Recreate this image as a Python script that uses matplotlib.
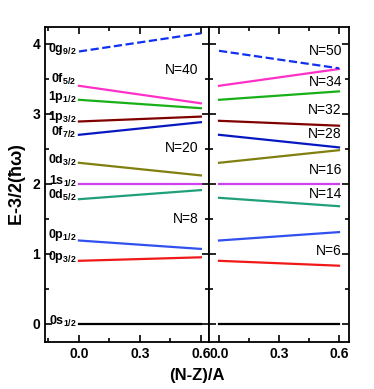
import matplotlib
matplotlib.use('Agg')
import matplotlib.pyplot as plt
from matplotlib.ticker import MultipleLocator

# ---------------------------------------------------------
# DATA (single-particle levels, E - 3/2 hbar*omega)
# ---------------------------------------------------------
X_ENDS = [0.0, 0.6]

ORBITALS = [r'0s$_{\mathbf{1/2}}$', r'0p$_{\mathbf{3/2}}$', r'0p$_{\mathbf{1/2}}$',
            r'0d$_{\mathbf{5/2}}$', r'1s$_{\mathbf{1/2}}$', r'0d$_{\mathbf{3/2}}$',
            r'0f$_{\mathbf{7/2}}$', r'1p$_{\mathbf{3/2}}$', r'1p$_{\mathbf{1/2}}$',
            r'0f$_{\mathbf{5/2}}$', r'0g$_{\mathbf{9/2}}$']
COLORS = ['#000000', '#f01818', '#3050f0', '#20a07a', '#d040f0',
          '#808010', '#0818c0', '#800000', '#18b018', '#ff30c8', '#1030f0']
STYLES = ['-'] * 10 + ['--']

LEFT_START = [0.0, 0.90, 1.19, 1.78, 2.0, 2.30, 2.70, 2.89, 3.20, 3.40, 3.89]
LEFT_END = [0.0, 0.95, 1.07, 1.91, 2.0, 2.12, 2.88, 2.96, 3.08, 3.15, 4.15]

RIGHT_START = [0.0, 0.90, 1.19, 1.80, 2.0, 2.30, 2.70, 2.90, 3.20, 3.40, 3.90]
RIGHT_END = [0.0, 0.83, 1.31, 1.68, 2.0, 2.48, 2.52, 2.83, 3.32, 3.64, 3.65]

LEFT_MAGIC = ['N=8', 'N=20', 'N=40']
LEFT_MAGIC_Y = [1.50, 2.51, 3.63]
RIGHT_MAGIC = ['N=6', 'N=14', 'N=16', 'N=28', 'N=32', 'N=34', 'N=50']
RIGHT_MAGIC_Y = [1.04, 1.86, 2.20, 2.71, 3.06, 3.46, 3.90]

# label heights for orbital names (slightly above the lines)
LABEL_Y = [0.04, 0.96, 1.27, 1.83, 2.03, 2.34, 2.73, 2.96, 3.24, 3.49, 3.93]

plt.rcParams['font.family'] = ['Liberation Sans', 'DejaVu Sans']
plt.rcParams['mathtext.fontset'] = 'custom'
plt.rcParams['mathtext.rm'] = 'Liberation Sans'
plt.rcParams['mathtext.bf'] = 'Liberation Sans:bold'
plt.rcParams['mathtext.it'] = 'DejaVu Sans:italic'
plt.rcParams['mathtext.default'] = 'regular'

fig = plt.figure(figsize=(3.74, 3.89), dpi=100)
ax1 = fig.add_axes([0.1203, 0.1208, 0.4385, 0.8098])
ax2 = fig.add_axes([0.5588, 0.1208, 0.3743, 0.8098])

for i in range(len(ORBITALS)):
    ax1.plot(X_ENDS, [LEFT_START[i], LEFT_END[i]], color=COLORS[i], ls=STYLES[i], lw=1.6)
    ax2.plot(X_ENDS, [RIGHT_START[i], RIGHT_END[i]], color=COLORS[i], ls=STYLES[i], lw=1.6)
    ax1.text(-0.012, LABEL_Y[i], ORBITALS[i], ha='right', va='center',
             fontsize=9, fontweight='bold')

for lab, y in zip(LEFT_MAGIC, LEFT_MAGIC_Y):
    ax1.text(0.59, y, lab, ha='right', va='center', fontsize=10)
for lab, y in zip(RIGHT_MAGIC, RIGHT_MAGIC_Y):
    ax2.text(0.615, y, lab, ha='right', va='center', fontsize=10)

ax1.set_xlim(-0.167, 0.64)
ax2.set_xlim(-0.05, 0.65)
for ax in (ax1, ax2):
    ax.set_ylim(-0.26, 4.24)
    ax.set_xticks([0.0, 0.3, 0.6])
    ax.set_xticklabels(['0.0', '0.3', '0.6'], fontweight='bold', fontsize=10)
    ax.xaxis.set_minor_locator(MultipleLocator(0.15))
    ax.yaxis.set_major_locator(MultipleLocator(1))
    ax.yaxis.set_minor_locator(MultipleLocator(0.5))
    ax.tick_params(which='both', direction='in', top=True, right=True, width=1.2)
    ax.tick_params(which='major', length=5)
    ax.tick_params(which='minor', length=3)
    for s in ax.spines.values():
        s.set_linewidth(1.3)
    for lbl in ax.get_yticklabels():
        lbl.set_fontweight('bold')
        lbl.set_fontsize(10)

ax2.tick_params(axis='y', labelleft=False)

ax1.set_ylabel(r'E-3/2($\hbar\omega$)', fontsize=13, fontweight='bold', labelpad=3)
fig.text(0.527, 0.035, '(N-Z)/A', ha='center', va='center', fontsize=12, fontweight='bold')

fig.savefig('out.png', dpi=100)
